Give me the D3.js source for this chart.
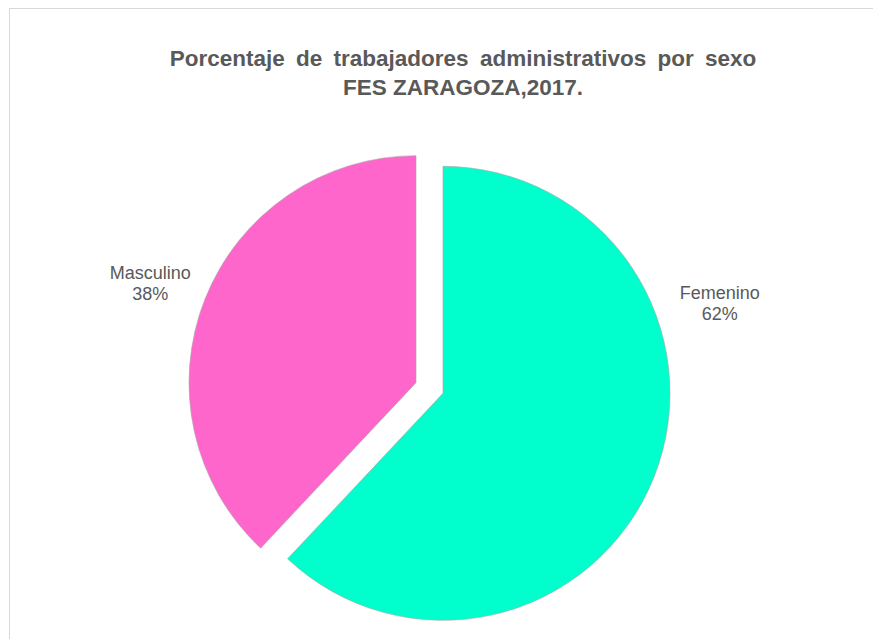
<!DOCTYPE html>
<html>
<head>
<meta charset="utf-8">
<script src="https://cdn.jsdelivr.net/npm/d3@7"></script>
<style>
  body { margin: 0; background: #fff; }
  text { font-family: "Liberation Sans", Arial, sans-serif; fill: #595959; }
</style>
</head>
<body>
<div id="chart"></div>
<script>
// data
var categories = ['Femenino', 'Masculino'];
var values = [62, 38];
var colors = ['#00FFCC', '#FF66CC'];
var titleLines = ['Porcentaje de trabajadores administrativos por sexo', 'FES ZARAGOZA,2017.'];

const W = 873, H = 639;
const CX = 429.5, CY = 388, R = 227, EXPLODE = 14.5;

var svg = d3.select('#chart').append('svg')
            .attr('width', W)
            .attr('height', H);

// chart frame
svg.append('rect')
   .attr('x', 9.5).attr('y', 8.5)
   .attr('width', W + 10).attr('height', H + 10)
   .attr('fill', '#fff')
   .attr('stroke', '#d9d9d9');

// title
svg.selectAll('text.title').data(titleLines)
   .enter().append('text')
   .classed('title', true)
   .attr('x', 463)
   .attr('y', (d, i) => 66 + i * 29)
   .attr('text-anchor', 'middle')
   .style('font-size', '22.5px')
   .style('font-weight', 'bold')
   .style('word-spacing', (d, i) => i == 0 ? '5px' : '0px')
   .text(d => d);

var pie = d3.pie().sort(null).value(d => d.value);
var arcs = pie(categories.map((c, i) => ({name: c, value: values[i], color: colors[i]})));
var arc = d3.arc().innerRadius(0).outerRadius(R);

function offset(d) {
  var a = (d.startAngle + d.endAngle) / 2;
  return [CX + Math.sin(a) * EXPLODE, CY - Math.cos(a) * EXPLODE];
}

var slices = svg.selectAll('g.slice').data(arcs)
                .enter().append('g')
                .classed('slice', true)
                .attr('transform', d => 'translate(' + offset(d) + ')');

slices.append('path')
      .attr('d', arc)
      .attr('fill', d => d.data.color)
      .attr('stroke', '#a6a6a6')
      .attr('stroke-width', 0.6);

// labels placed outside of each slice (best-fit like)
var labelAngle = [72, 290.6].map(a => a * Math.PI / 180);
var labelRadius = [291, 284];
var labels = slices.append('text')
                   .attr('text-anchor', 'middle')
                   .style('font-size', '18px')
                   .attr('transform', (d, i) => {
                     var o = offset(d);
                     // label relative to the slice vertex
                     var base = i == 0 ? [443 - o[0], 393 - o[1]] : [416 - o[0], 383 - o[1]];
                     return 'translate(' + (base[0] + Math.sin(labelAngle[i]) * labelRadius[i]) + ',' +
                            (base[1] - Math.cos(labelAngle[i]) * labelRadius[i]) + ')';
                   });
labels.append('tspan').attr('x', 0).attr('dy', '-0.22em').text(d => d.data.name);
labels.append('tspan').attr('x', 0).attr('dy', '1.15em').text(d => d.data.value + '%');
</script>
</body>
</html>
